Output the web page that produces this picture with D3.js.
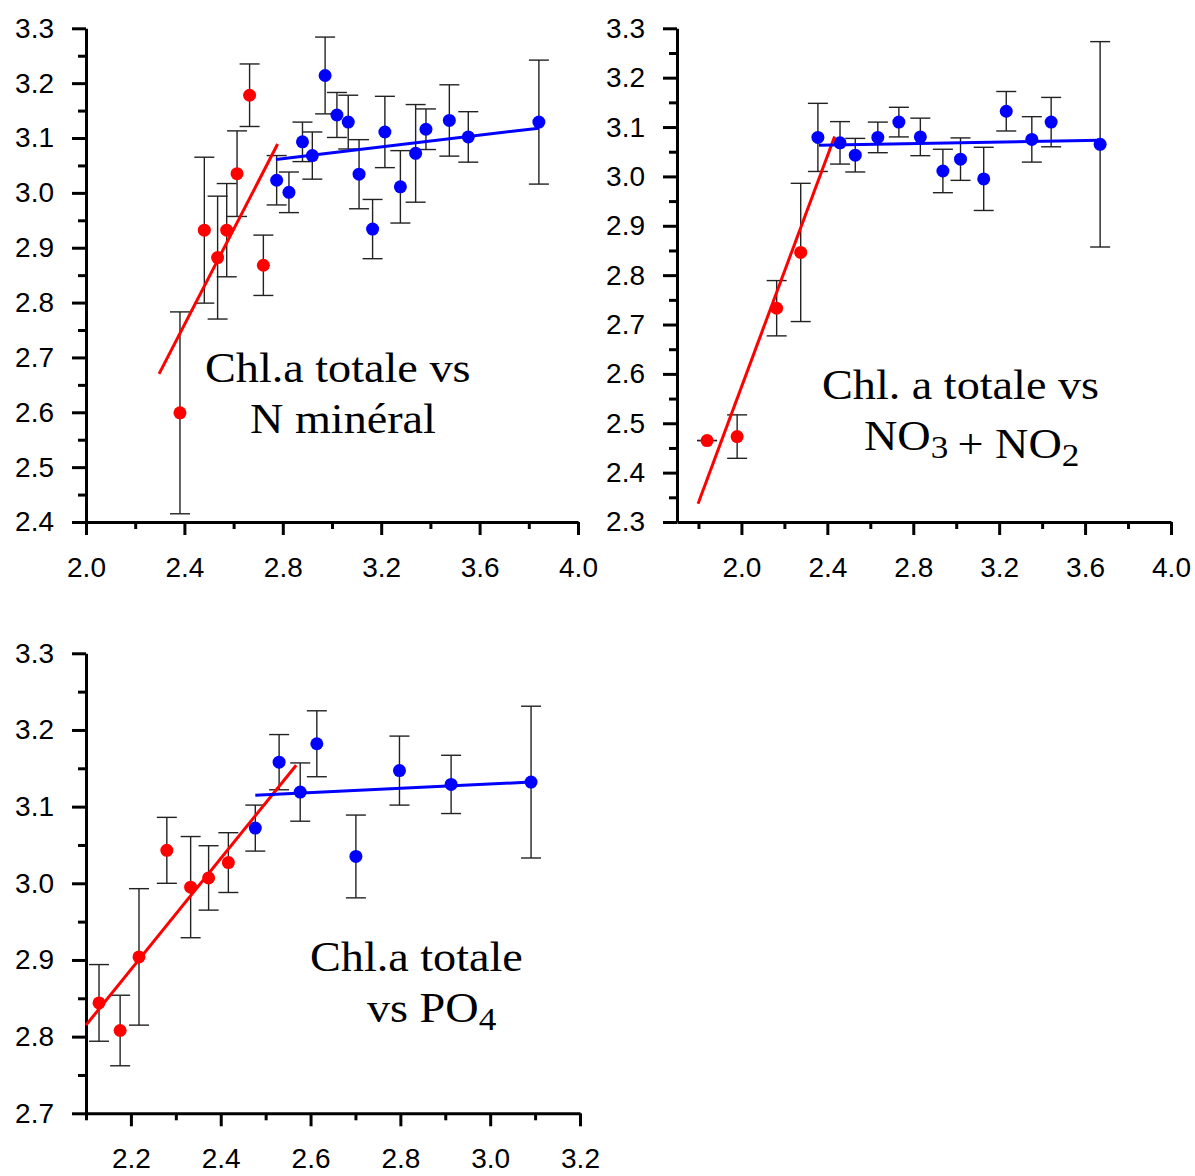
<!DOCTYPE html>
<html>
<head>
<meta charset="utf-8">
<script src="https://cdn.jsdelivr.net/npm/d3@7"></script>
<style>
  body { margin: 0; background: #fff; }
</style>
</head>
<body>
<script>
// ---- panel 1 : Chl.a totale vs N minéral ----
const p1RedX   = [2.382, 2.481, 2.535, 2.572, 2.614, 2.665, 2.721];
const p1RedY   = [2.599, 2.932, 2.882, 2.932, 3.035, 3.178, 2.868];
const p1RedErr = [0.184, 0.133, 0.112, 0.085, 0.078, 0.057, 0.055];
const p1BlueX   = [2.775, 2.825, 2.880, 2.920, 2.972, 3.020, 3.066, 3.110, 3.165, 3.215, 3.278, 3.340, 3.382, 3.477, 3.554, 3.841];
const p1BlueY   = [3.023, 3.001, 3.093, 3.068, 3.214, 3.142, 3.129, 3.034, 2.934, 3.111, 3.011, 3.072, 3.116, 3.132, 3.102, 3.129];
const p1BlueErr = [0.045, 0.037, 0.036, 0.043, 0.070, 0.041, 0.049, 0.063, 0.054, 0.065, 0.066, 0.089, 0.037, 0.065, 0.046, 0.113];
const p1RedFit  = [[2.297, 2.670], [2.779, 3.089]];
const p1BlueFit = [[2.772, 3.061], [3.841, 3.118]];
const p1XMajor = [2.0, 2.4, 2.8, 3.2, 3.6, 4.0];
const p1XMinor = [2.2, 2.6, 3.0, 3.4, 3.8];
const p1YMajor = [2.4, 2.5, 2.6, 2.7, 2.8, 2.9, 3.0, 3.1, 3.2, 3.3];
const p1YMinor = [2.45, 2.55, 2.65, 2.75, 2.85, 2.95, 3.05, 3.15, 3.25];

// ---- panel 2 : Chl. a totale vs NO3 + NO2 ----
const p2RedX   = [1.840, 1.980, 2.164, 2.276];
const p2RedY   = [2.465, 2.473, 2.733, 2.846];
const p2RedErr = [0.000, 0.044, 0.056, 0.140];
const p2BlueX   = [2.356, 2.459, 2.530, 2.635, 2.733, 2.833, 2.938, 3.020, 3.128, 3.233, 3.352, 3.442, 3.670];
const p2BlueY   = [3.079, 3.068, 3.043, 3.079, 3.110, 3.080, 3.011, 3.035, 2.995, 3.132, 3.075, 3.110, 3.065];
const p2BlueErr = [0.069, 0.043, 0.034, 0.031, 0.030, 0.038, 0.044, 0.043, 0.064, 0.040, 0.046, 0.050, 0.208];
const p2RedFit  = [[1.798, 2.337], [2.434, 3.081]];
const p2BlueFit = [[2.361, 3.063], [3.670, 3.073]];
const p2XMajor = [2.0, 2.4, 2.8, 3.2, 3.6, 4.0];
const p2XMinor = [1.8, 2.2, 2.6, 3.0, 3.4, 3.8];
const p2YMajor = [2.3, 2.4, 2.5, 2.6, 2.7, 2.8, 2.9, 3.0, 3.1, 3.2, 3.3];
const p2YMinor = [2.35, 2.45, 2.55, 2.65, 2.75, 2.85, 2.95, 3.05, 3.15, 3.25];

// ---- panel 3 : Chl.a totale vs PO4 ----
const p3RedX   = [2.129, 2.176, 2.218, 2.280, 2.333, 2.373, 2.417];
const p3RedY   = [2.844, 2.808, 2.904, 3.043, 2.995, 3.007, 3.027];
const p3RedErr = [0.050, 0.046, 0.089, 0.043, 0.066, 0.042, 0.039];
const p3BlueX   = [2.477, 2.530, 2.577, 2.614, 2.701, 2.798, 2.913, 3.091];
const p3BlueY   = [3.072, 3.158, 3.119, 3.182, 3.035, 3.147, 3.129, 3.132];
const p3BlueErr = [0.030, 0.036, 0.038, 0.043, 0.054, 0.045, 0.038, 0.099];
const p3RedFit  = [[2.100, 2.815], [2.568, 3.154]];
const p3BlueFit = [[2.477, 3.115], [3.091, 3.132]];
const p3XMajor = [2.2, 2.4, 2.6, 2.8, 3.0, 3.2];
const p3XMinor = [2.1, 2.3, 2.5, 2.7, 2.9, 3.1];
const p3YMajor = [2.7, 2.8, 2.9, 3.0, 3.1, 3.2, 3.3];
const p3YMinor = [2.75, 2.85, 2.95, 3.05, 3.15, 3.25];

// create svg canvas
const canvWidth = 1195, canvHeight = 1176;
const svg = d3.select("body").append("svg")
    .attr("width", canvWidth)
    .attr("height", canvHeight);

const fmt = d3.format(".1f");

function drawPanel(p) {
    const g = svg.append("g");
    const x = d3.scaleLinear().domain(p.xDomain).range(p.xRange);
    const y = d3.scaleLinear().domain(p.yDomain).range(p.yRange);

    // minor ticks
    g.append("g")
        .attr("transform", "translate(0," + p.yRange[0] + ")")
        .call(d3.axisBottom(x).tickValues(p.xMinor).tickSize(7).tickFormat(""))
        .call(a => a.select(".domain").remove());
    g.append("g")
        .attr("transform", "translate(" + p.xRange[0] + ",0)")
        .call(d3.axisLeft(y).tickValues(p.yMinor).tickSize(8).tickFormat(""))
        .call(a => a.select(".domain").remove());

    // major axes
    g.append("g")
        .attr("transform", "translate(0," + p.yRange[0] + ")")
        .call(d3.axisBottom(x).tickValues(p.xMajor).tickSize(13).tickSizeOuter(0)
            .tickPadding(22).tickFormat(fmt));
    g.append("g")
        .attr("transform", "translate(" + p.xRange[0] + ",0)")
        .call(d3.axisLeft(y).tickValues(p.yMajor).tickSize(14).tickSizeOuter(0)
            .tickPadding(18).tickFormat(fmt));

    g.selectAll(".tick line, .domain")
        .attr("stroke", "#000")
        .attr("stroke-width", 3);
    g.selectAll(".tick text")
        .attr("font-family", "Liberation Sans, Arial, sans-serif")
        .attr("font-size", "28px")
        .attr("fill", "#000");

    // error bars + points
    [[p.redX, p.redY, p.redErr, "#ff0000"], [p.blueX, p.blueY, p.blueErr, "#0000ff"]]
        .forEach(([xs, ys, es, col]) => {
            const data = xs.map((v, i) => ({ x: v, y: ys[i], e: es[i] }));
            const eb = g.append("g").attr("stroke", "#222").attr("stroke-width", 1.4);
            eb.selectAll("line.v").data(data).enter().append("line")
                .attr("x1", d => x(d.x)).attr("x2", d => x(d.x))
                .attr("y1", d => y(d.y + d.e)).attr("y2", d => y(d.y - d.e));
            eb.selectAll("line.t").data(data).enter().append("line")
                .attr("x1", d => x(d.x) - 10).attr("x2", d => x(d.x) + 10)
                .attr("y1", d => y(d.y + d.e)).attr("y2", d => y(d.y + d.e));
            eb.selectAll("line.b").data(data).enter().append("line")
                .attr("x1", d => x(d.x) - 10).attr("x2", d => x(d.x) + 10)
                .attr("y1", d => y(d.y - d.e)).attr("y2", d => y(d.y - d.e));
            g.append("g").selectAll("circle").data(data).enter().append("circle")
                .attr("cx", d => x(d.x))
                .attr("cy", d => y(d.y))
                .attr("r", 6.5)
                .attr("fill", col);
        });

    // fit lines
    const line = d3.line().x(d => x(d[0])).y(d => y(d[1]));
    g.append("path").datum(p.redFit).attr("d", line)
        .attr("fill", "none").attr("stroke", "#ff0000").attr("stroke-width", 3);
    g.append("path").datum(p.blueFit).attr("d", line)
        .attr("fill", "none").attr("stroke", "#0000ff").attr("stroke-width", 3);

    // annotation (text in the original looks slightly stretched horizontally)
    p.label.forEach(l => {
        const t = g.append("text")
            .attr("transform", "translate(" + l.x + "," + l.y + ") scale(1.1,1)")
            .attr("font-family", "Liberation Serif, Times New Roman, serif")
            .attr("font-size", "42px")
            .attr("fill", "#000");
        l.parts.forEach(part => {
            if (part.sub) {
                t.append("tspan").attr("dy", 8).attr("font-size", "32px").text(part.text);
                t.append("tspan").attr("dy", -8).text("");
            } else {
                t.append("tspan").text(part.text);
            }
        });
    });
}

drawPanel({
    xDomain: [2.0, 4.0], xRange: [86, 578],
    yDomain: [2.4, 3.3], yRange: [522, 28.3],
    xMajor: p1XMajor, xMinor: p1XMinor, yMajor: p1YMajor, yMinor: p1YMinor,
    redX: p1RedX, redY: p1RedY, redErr: p1RedErr,
    blueX: p1BlueX, blueY: p1BlueY, blueErr: p1BlueErr,
    redFit: p1RedFit, blueFit: p1BlueFit,
    label: [
        { x: 205, y: 382, parts: [{ text: "Chl.a totale vs" }] },
        { x: 250, y: 433, parts: [{ text: "N minéral" }] }
    ]
});

drawPanel({
    xDomain: [1.7, 4.0], xRange: [677, 1171],
    yDomain: [2.3, 3.3], yRange: [522, 28.3],
    xMajor: p2XMajor, xMinor: p2XMinor, yMajor: p2YMajor, yMinor: p2YMinor,
    redX: p2RedX, redY: p2RedY, redErr: p2RedErr,
    blueX: p2BlueX, blueY: p2BlueY, blueErr: p2BlueErr,
    redFit: p2RedFit, blueFit: p2BlueFit,
    label: [
        { x: 822, y: 399, parts: [{ text: "Chl. a totale vs" }] },
        { x: 864, y: 450, parts: [{ text: "NO" }, { text: "3", sub: true }, { text: "\u2009+ NO" }, { text: "2", sub: true }] }
    ]
});

drawPanel({
    xDomain: [2.1, 3.2], xRange: [86, 580],
    yDomain: [2.7, 3.3], yRange: [1113.3, 653.3],
    xMajor: p3XMajor, xMinor: p3XMinor, yMajor: p3YMajor, yMinor: p3YMinor,
    redX: p3RedX, redY: p3RedY, redErr: p3RedErr,
    blueX: p3BlueX, blueY: p3BlueY, blueErr: p3BlueErr,
    redFit: p3RedFit, blueFit: p3BlueFit,
    label: [
        { x: 310, y: 971, parts: [{ text: "Chl.a totale" }] },
        { x: 367, y: 1022, parts: [{ text: "vs PO" }, { text: "4", sub: true }] }
    ]
});
</script>
</body>
</html>
